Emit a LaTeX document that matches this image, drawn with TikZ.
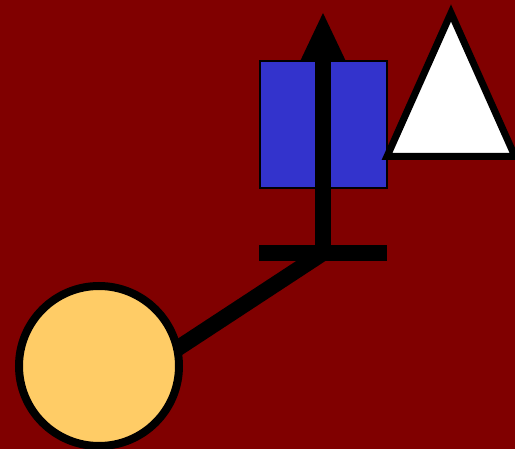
\documentclass[tikz,border=0pt]{standalone}
\definecolor{bgred}{HTML}{800000}
\definecolor{boxblue}{HTML}{3333CC}
\definecolor{sand}{HTML}{FFCC66}
\begin{document}
\begin{tikzpicture}[x=1pt,y=-1pt,
  thick line/.style={line width=16pt, draw=black},
  boxstyle/.style={draw=black, line width=2pt, fill=boxblue, minimum size=127pt, inner sep=0pt, outer sep=0pt},
  ballstyle/.style={circle, draw=black, line width=8pt, fill=sand, minimum size=160pt, inner sep=0pt, outer sep=0pt}]
\fill[bgred] (0,0) rectangle (515,449);
\useasboundingbox (0,0) rectangle (515,449);
% arrow head (partly hidden behind the box)
\coordinate (tip) at (323,13);
\coordinate (headL) at (295,72);
\coordinate (headR) at (351,72);
\fill[black] (tip) -- (headL) -- (headR) -- cycle;
% blue box
\node[boxstyle] (box) at (323,125) {};
% shaft, bar and diagonal
\coordinate (joint) at (323,253);
\coordinate (shafttop) at (323,60);
\coordinate (barL) at (259,253);
\coordinate (barR) at (387,253);
\coordinate (diagend) at (140,373);
\draw[thick line] (joint) -- (shafttop);
\draw[thick line] (barL) -- (barR);
\draw[thick line] (joint) -- (diagend);
% circle
\node[ballstyle] (ball) at (99,366) {};
% triangle
\coordinate (apex) at (451,13);
\coordinate (triL) at (387,156.5);
\coordinate (triR) at (515,156.5);
\draw[black, line width=7pt, fill=white, line join=miter] (apex) -- (triL) -- (triR) -- cycle;
\end{tikzpicture}
\end{document}
